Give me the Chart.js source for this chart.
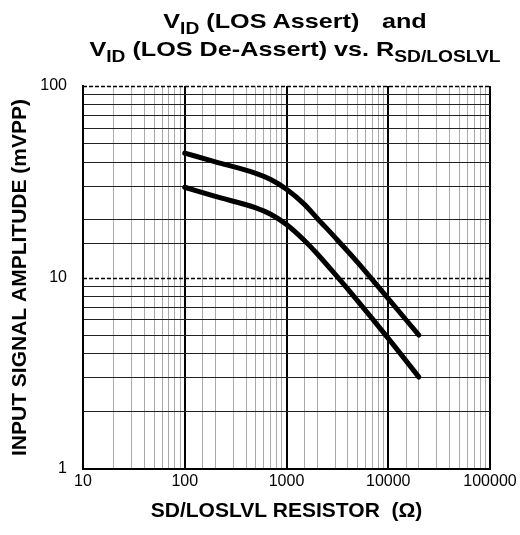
<!DOCTYPE html>
<html>
<head>
<meta charset="utf-8">
<script src="https://cdn.jsdelivr.net/npm/chart.js@4"></script>
<style>
  body { margin: 0; background: #fff; }
  #wrap { position: relative; width: 520px; height: 535px; }
  .tline {
    position: absolute; left: 45px; width: 500px; white-space: nowrap;
    text-align: center; font-family: Arial, "Liberation Sans", sans-serif;
    font-weight: bold; font-size: 21px; line-height: 28px; color: #000;
    transform: scaleX(1.2); transform-origin: 250px 50%;
  }
  .tline sub { font-size: 16px; vertical-align: baseline; position: relative; top: 6px; }
  .gap { display: inline-block; width: 13px; }
</style>
</head>
<body>
<div id="wrap">
  <canvas id="losChart" width="520" height="535"></canvas>
  <div class="tline" style="top:7px">V<sub>ID</sub> (LOS Assert)<span class="gap"></span> and</div>
  <div class="tline" style="top:35px">V<sub>ID</sub> (LOS De-Assert) vs. R<sub>SD/LOSLVL</sub></div>
</div>
<script>
// resistor values (ohm)
const resistor = [100, 200, 500, 700, 1000, 1500, 2000, 3000, 5000, 10000, 20000];
// LOS assert / de-assert amplitude (mVPP)
const assertMv = [44.6, 40.2, 35.0, 32.5, 28.9, 24.1, 20.4, 16.2, 12.0, 7.75, 5.0];
const deassertMv = [29.6, 26.5, 23.1, 21.4, 18.9, 15.6, 13.3, 10.4, 7.55, 4.81, 3.02];

const xTicks = [10, 100, 1000, 10000, 100000];
const yTicks = [1, 10, 100];
const dashedLevels = [10, 100];

const FONT = "Arial, 'Liberation Sans', sans-serif";

function isDecade(v) {
  const l = Math.log10(v);
  return Math.abs(l - Math.round(l)) < 1e-9;
}

// dashed horizontal grid lines at 10 and 100
const dashedGrid = {
  id: "dashedGrid",
  beforeDatasetsDraw(chart) {
    const { ctx, chartArea, scales } = chart;
    ctx.save();
    ctx.strokeStyle = "#000";
    ctx.lineWidth = 1.5;
    ctx.setLineDash([4, 2]);
    dashedLevels.forEach(v => {
      const y = Math.round(scales.y.getPixelForValue(v)) + 0.5;
      ctx.beginPath();
      ctx.moveTo(chartArea.left, y);
      ctx.lineTo(chartArea.right, y);
      ctx.stroke();
    });
    ctx.restore();
  }
};

const ctx = document.getElementById("losChart").getContext("2d");

new Chart(ctx, {
  type: "line",
  data: {
    datasets: [
      {
        label: "LOS Assert",
        data: resistor.map((r, i) => ({ x: r, y: assertMv[i] })),
        borderColor: "#000",
        borderWidth: 5,
        pointRadius: 0,
        cubicInterpolationMode: "monotone",
        borderCapStyle: "round"
      },
      {
        label: "LOS De-Assert",
        data: resistor.map((r, i) => ({ x: r, y: deassertMv[i] })),
        borderColor: "#000",
        borderWidth: 5,
        pointRadius: 0,
        cubicInterpolationMode: "monotone",
        borderCapStyle: "round"
      }
    ]
  },
  options: {
    responsive: false,
    animation: false,
    layout: { padding: { left: 0, right: 30, top: 86, bottom: 0 } },
    plugins: {
      legend: { display: false },
      tooltip: { enabled: false }
    },
    scales: {
      x: {
        type: "logarithmic",
        min: 10,
        max: 100000,
        afterFit: s => { s.height = 66; },
        border: { display: true, color: "#000", width: 2 },
        grid: {
          drawTicks: false,
          color: c => isDecade(c.tick.value) ? "#000" : "#aaa",
          lineWidth: c => isDecade(c.tick.value) ? 2 : 1
        },
        ticks: {
          autoSkip: false,
          maxRotation: 0,
          padding: 3,
          color: "#000",
          font: { family: FONT, size: 16 },
          callback: v => xTicks.includes(v) ? String(v) : ""
        },
        title: {
          display: true,
          text: "SD/LOSLVL RESISTOR  (Ω)",
          color: "#000",
          font: { family: FONT, size: 21, weight: "bold" },
          padding: { top: 0, bottom: 11 }
        }
      },
      y: {
        type: "logarithmic",
        min: 1,
        max: 100,
        afterFit: s => { s.width = 83; },
        border: { display: true, color: "#000", width: 2 },
        grid: {
          drawTicks: false,
          color: c => dashedLevels.includes(c.tick.value) ? "rgba(0,0,0,0)" : "#222",
          lineWidth: c => isDecade(c.tick.value) ? 2 : 1
        },
        ticks: {
          autoSkip: false,
          padding: 16,
          color: "#000",
          font: { family: FONT, size: 16 },
          callback: v => yTicks.includes(v) ? String(v) : ""
        },
        title: {
          display: true,
          text: "INPUT SIGNAL AMPLITUDE (mVPP)",
          color: "#000",
          font: { family: FONT, size: 21, weight: "bold" },
          padding: { top: 8, bottom: 0 }
        }
      }
    }
  },
  plugins: [dashedGrid]
});
</script>
</body>
</html>
